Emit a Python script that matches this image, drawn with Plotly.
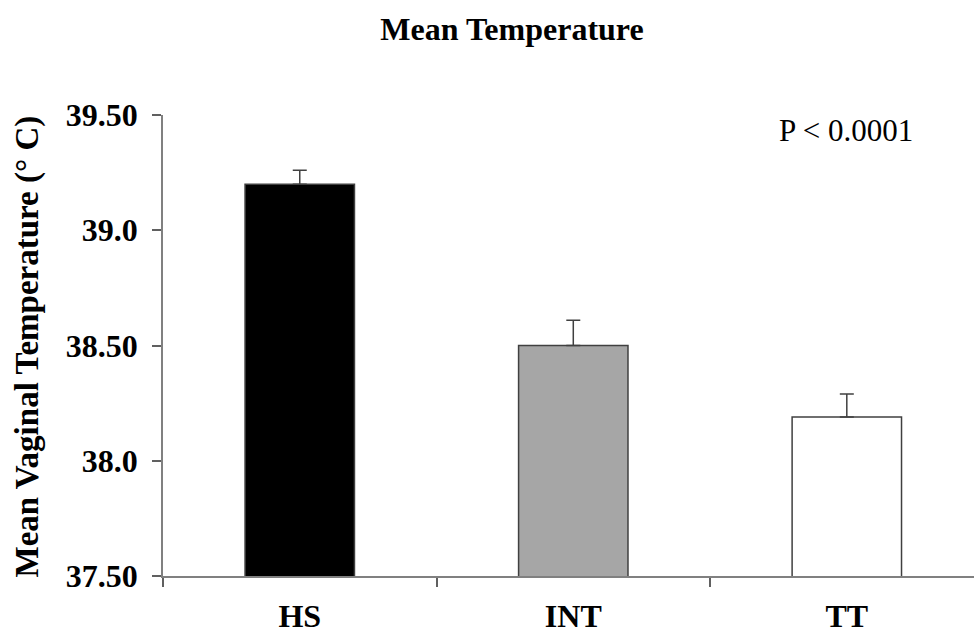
import plotly.graph_objects as go

categories = ["HS", "INT", "TT"]
means = [39.20, 38.50, 38.19]
errors_up = [0.06, 0.11, 0.10]
bar_colors = ["#000000", "#a6a6a6", "#ffffff"]
y_tick_vals = [37.5, 38.0, 38.5, 39.0, 39.5]
y_tick_text = ["37.50", "38.0", "38.50", "39.0", "39.50"]

FONT = "Liberation Serif, Times New Roman, serif"

fig = go.Figure()
fig.add_trace(go.Bar(
    x=categories,
    y=means,
    width=0.4,
    marker=dict(color=bar_colors, line=dict(color="#404040", width=1.5)),
    error_y=dict(type="data", symmetric=False, array=errors_up,
                 arrayminus=[0, 0, 0], color="#404040", thickness=1.5, width=7),
    showlegend=False,
))

fig.update_layout(
    width=974, height=634,
    margin=dict(l=163, r=0, t=115, b=53),
    plot_bgcolor="white", paper_bgcolor="white",
    title=dict(text="<b>Mean Temperature</b>", x=512/974, xanchor="center",
               xref="container", y=1 - 29/634, yref="container", yanchor="middle",
               font=dict(family=FONT, size=32, color="black")),
    bargap=0.6,
)

fig.update_xaxes(
    range=[-0.5, 2.465],
    showline=True, linecolor="#808080", linewidth=1.5,
    ticks="outside", tickson="boundaries", ticklen=9, tickcolor="#606060", tickwidth=1.5,
    tickfont=dict(family=FONT, size=32, color="black"),
    tickprefix="<b>", ticksuffix="</b>",
    ticklabelstandoff=11,
    showgrid=False, zeroline=False,
)
fig.update_yaxes(
    range=[37.5, 39.5],
    tickvals=y_tick_vals, ticktext=["<b>" + t + "</b>" for t in y_tick_text],
    showline=True, linecolor="#808080", linewidth=1.5,
    ticks="outside", ticklen=9, tickcolor="#606060", tickwidth=1.5,
    tickfont=dict(family=FONT, size=32, color="black"),
    ticklabelstandoff=8,
    showgrid=False, zeroline=False,
)

fig.add_annotation(
    text="<b>Mean Vaginal Temperature (° C)</b>",
    xref="paper", yref="paper", x=(27 - 163) / 811, y=(581 - 349) / 466,
    textangle=-90, showarrow=False, xanchor="center", yanchor="middle",
    font=dict(family=FONT, size=33, color="black"),
)
fig.add_annotation(
    text="P < 0.0001",
    xref="paper", yref="paper", x=(846 - 163) / 811, y=(581 - 131) / 466,
    showarrow=False, xanchor="center", yanchor="middle",
    font=dict(family=FONT, size=31, color="black"),
)

fig.write_html("out.html", config={"displayModeBar": False},
               post_script="document.body.style.margin='0';")
